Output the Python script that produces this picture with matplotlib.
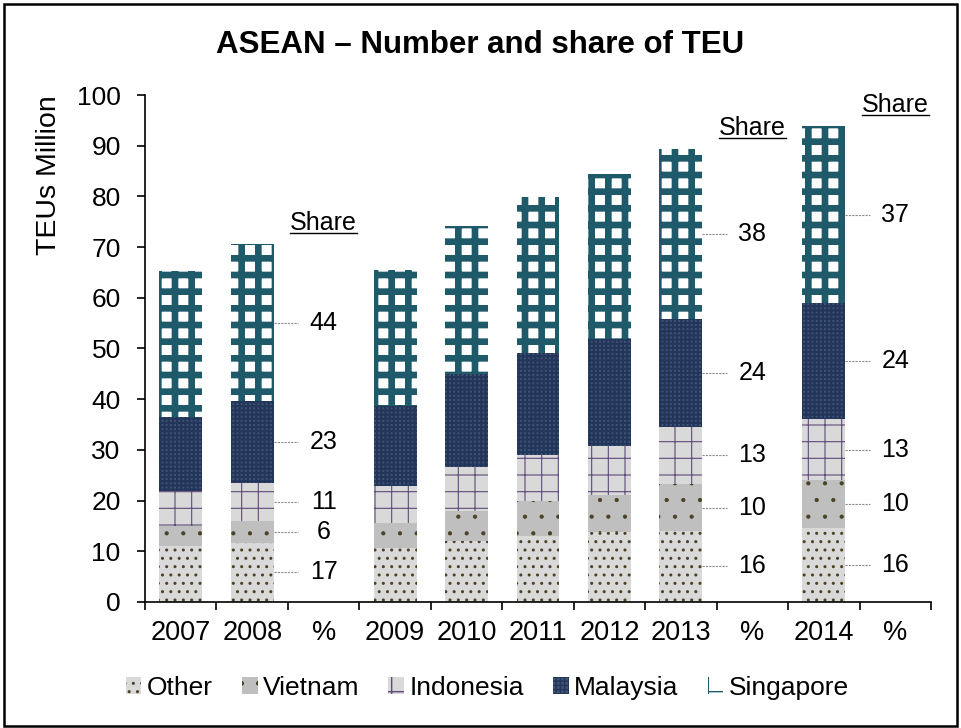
import numpy as np
import matplotlib
matplotlib.use("Agg")
import matplotlib.pyplot as plt
from matplotlib.lines import Line2D
from matplotlib.patches import Rectangle

plt.rcParams['font.family'] = ['Liberation Sans', 'DejaVu Sans']

# categories on the x axis (bars + share columns)
tick_labels = ["2007", "2008", "%", "2009", "2010", "2011", "2012", "2013", "%", "2014", "%"]
years = ["2007", "2008", "2009", "2010", "2011", "2012", "2013", "2014"]

# TEUs million
other = [11.0, 11.7, 10.7, 12.1, 13.0, 13.9, 14.0, 14.6]
vietnam = [4.0, 4.3, 4.8, 5.8, 6.9, 7.3, 9.2, 9.4]
indonesia = [6.8, 7.5, 7.4, 8.8, 9.0, 9.6, 11.4, 12.1]
malaysia = [14.7, 16.1, 15.8, 18.2, 20.2, 21.1, 21.2, 22.8]
singapore = [28.8, 31.0, 26.8, 29.3, 30.7, 32.5, 33.5, 35.0]

# share labels (%), order: Other, Vietnam, Indonesia, Malaysia, Singapore
share_years = ["2008", "2013", "2014"]
shares = {
    "2008": [17, 6, 11, 23, 44],
    "2013": [16, 10, 13, 24, 38],
    "2014": [16, 10, 13, 24, 37],
}

series = [
    ("Other", other),
    ("Vietnam", vietnam),
    ("Indonesia", indonesia),
    ("Malaysia", malaysia),
    ("Singapore", singapore),
]
# face, hatch, hatch colour, hatch width
styles = {
    "Other": ("#D9D9D9", "..", "#4A4226", 1.0),
    "Vietnam": ("#BFBFBF", ".", "#4A4226", 0.6),
    "Indonesia": ("#D9D9D9", "+", "#604A7B", 0.8),
    "Malaysia": ("#3F5272", "++++", "#22355A", 1.5),
    "Singapore": ("#FFFFFF", "+", "#1F5A6A", 4.8),
}

fig = plt.figure(figsize=(9.61, 7.28), dpi=100)
ax = fig.add_axes([0.1509, 0.1731, 0.8179, 0.6964])

x = np.array([tick_labels.index(y) for y in years], dtype=float)
width = 0.6
bottom = np.zeros(len(years))
handles = []
for name, vals in series:
    face, hatch, hc, hlw = styles[name]
    with plt.rc_context({'hatch.linewidth': hlw}):
        bars = ax.bar(x, vals, width, bottom=bottom, color=face, edgecolor=hc,
                      hatch=hatch, linewidth=0, label=name)
    handles.append(bars)
    bottom = bottom + np.array(vals)

totals = bottom

# share labels with leader lines
share_texts = []
for yr in share_years:
    i = years.index(yr)
    slot = tick_labels.index(yr) + 1
    base = 0.0
    for (name, vals), s in zip(series, shares[yr]):
        mid = base + vals[i] / 2
        base += vals[i]
        ax.plot([x[i] + width / 2, slot - 0.36], [mid, mid], color="#8C8C8C",
                lw=0.8, ls=(0, (2, 1)), solid_capstyle='butt')
        ax.text(slot, mid, str(s), ha='center', va='center', fontsize=18)
    t = ax.text(slot, totals[i] + 4.2, "Share", ha='center', va='center', fontsize=18)
    share_texts.append(t)

ax.set_ylim(0, 100)
ax.set_xlim(-0.5, 10.5)
ax.set_yticks(range(0, 101, 10))
ax.tick_params(axis='y', direction='out', length=5.5, width=1.2, pad=12, labelsize=19)

ax.set_xticks(np.arange(-0.5, 11, 1))
ax.set_xticklabels([])
ax.set_xticks(np.arange(11), minor=True)
ax.set_xticklabels(tick_labels, minor=True)
ax.tick_params(axis='x', which='major', direction='out', length=5.5, width=1.2)
ax.tick_params(axis='x', which='minor', length=0, pad=13, labelsize=19.5)

for sp in ['top', 'right']:
    ax.spines[sp].set_visible(False)
for sp in ['left', 'bottom']:
    ax.spines[sp].set_linewidth(1.2)

ax.set_ylabel("TEUs Million", fontsize=20.5)
ax.yaxis.set_label_coords(-0.105, 0.842)

fig.text(0.5, 0.938, "ASEAN \u2013 Number and share of TEU", ha='center', va='center',
         fontsize=22.5, fontweight='bold')

fig.legend(handles=handles, labels=[n for n, _ in series], loc='center',
           bbox_to_anchor=(0.507, 0.055), ncol=5, frameon=False, fontsize=19,
           handlelength=0.6, handleheight=0.6, handletextpad=0.2, columnspacing=1.1)

# outer border
fig.patches.append(Rectangle((0.004, 0.003), 0.992, 0.992, transform=fig.transFigure,
                             fill=False, lw=1.8, ec='black'))

# underline the "Share" headers
fig.canvas.draw()
r = fig.canvas.get_renderer()
inv = fig.transFigure.inverted()
for t in share_texts:
    bb = t.get_window_extent(r)
    (x0, y0), (x1, _) = inv.transform([[bb.x0, bb.y0 + 2], [bb.x1, bb.y0]])
    fig.add_artist(Line2D([x0, x1], [y0, y0], transform=fig.transFigure, color='black', lw=1))

fig.savefig("out.png", dpi=100)
